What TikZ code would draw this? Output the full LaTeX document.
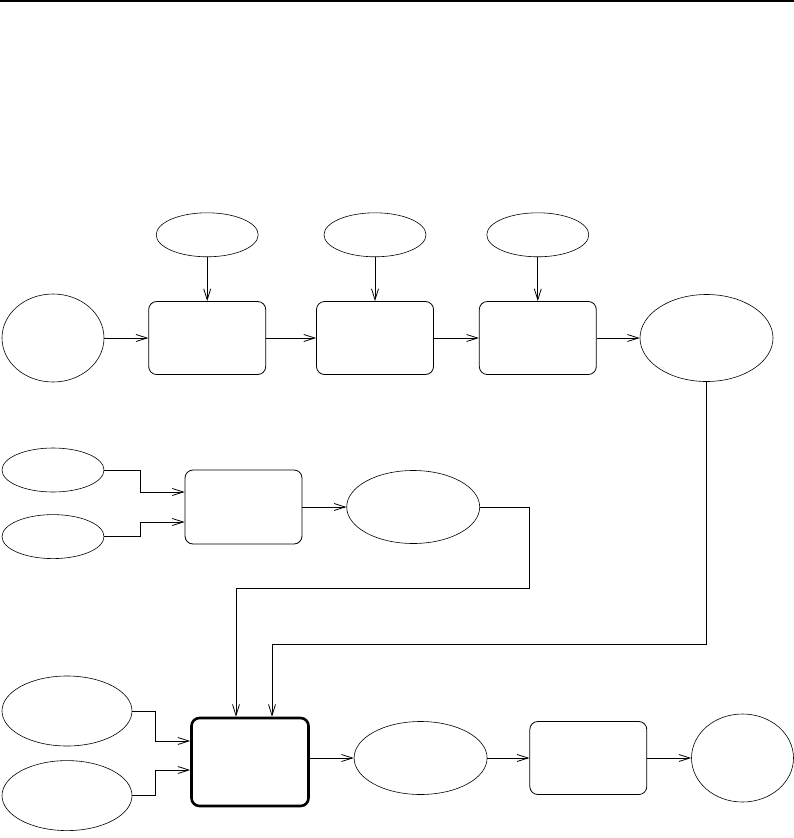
\documentclass[tikz,border=0pt]{standalone}
\usepackage{tikz}
\usetikzlibrary{arrows.meta,positioning,shapes.geometric,calc}

\begin{document}
\begin{tikzpicture}[
        x=1pt, y=-1pt,
        node distance=44pt,
        box/.style={draw, rectangle, rounded corners=8pt, line width=0.8pt, inner sep=0pt, minimum width=117pt, minimum height=73pt},
        oval/.style={draw, ellipse, line width=0.6pt, inner sep=0pt, minimum width=102pt, minimum height=88pt},
        flat/.style={oval, minimum height=44pt},
        wide/.style={oval, minimum width=133pt, minimum height=73pt},
        arr/.style={-{Straight Barb[length=11pt, width=7pt]}, line width=0.8pt}
    ]
        \useasboundingbox (0,0) rectangle (794,838);
        \draw[line width=2.2pt] (0,1) -- (794,1);

        % first row
        \node[oval] (src) at (53,338) {};
        \node[box, right=of src] (stepa) {};
        \node[box, right=50pt of stepa] (stepb) {};
        \node[box, right=45pt of stepb] (stepc) {};
        \node[oval, minimum width=133pt, minimum height=87pt, right=43pt of stepc] (resa) {};
        \node[flat, above=of stepa] (parama) {};
        \node[flat, above=of stepb] (paramb) {};
        \node[flat, above=of stepc] (paramc) {};

        \draw[arr] (src) -- (stepa);
        \draw[arr] (stepa) -- (stepb);
        \draw[arr] (stepb) -- (stepc);
        \draw[arr] (stepc) -- (resa);
        \draw[arr] (parama) -- (stepa);
        \draw[arr] (paramb) -- (stepb);
        \draw[arr] (paramc) -- (stepc);

        % second row
        \node[flat] (ina) at (53,470) {};
        \node[flat, below=22pt of ina] (inb) {};
        \node[box, minimum height=74pt] (merge) at (243.5,507) {};
        \node[wide, right=of merge] (resb) {};

        \draw[arr] (ina.east) -- ++(36,0) |- ([yshift=15pt]merge.west);
        \draw[arr] (inb.east) -- ++(36,0) |- ([yshift=-15pt]merge.west);
        \draw[arr] (merge) -- (resb);

        % third row
        \node[oval, minimum width=130pt, minimum height=70pt] (cfga) at (67,711) {};
        \node[oval, minimum width=130pt, minimum height=70pt, below=14pt of cfga] (cfgb) {};
        \node[box, line width=2.6pt, minimum height=88pt] (core) at (250,762) {};
        \node[wide, right=of core, yshift=4pt] (outa) {};
        \node[box, right=42pt of outa] (post) {};
        \node[oval, right=of post] (final) {};

        \draw[arr] (cfga.east) -- ++(23,0) |- ([yshift=21pt]core.west);
        \draw[arr] (cfgb.east) -- ++(23,0) |- ([yshift=-8pt]core.west);
        \draw[arr] (resb.east) -- ++(49,0) -- ++(0,81) -| ([xshift=-14pt]core.north);
        \draw[arr] (resa.south) -- ++(0,263) -| ([xshift=22pt]core.north);
        \draw[arr] (core.east |- outa.west) -- (outa);
        \draw[arr] (outa) -- (post);
        \draw[arr] (post) -- (final);

    \end{tikzpicture}
\end{document}
